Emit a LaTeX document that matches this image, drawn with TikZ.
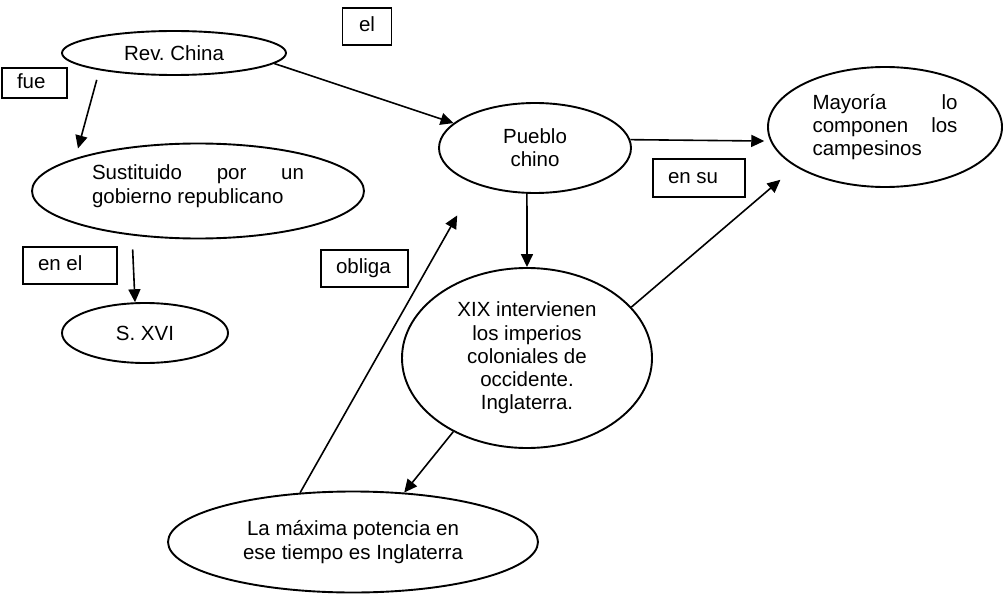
\documentclass[tikz,border=0pt]{standalone}
\usepackage{fontspec}
\setmainfont{Liberation Sans}
\usetikzlibrary{shapes.geometric,arrows.meta}

\begin{document}
\begin{tikzpicture}[x=1pt,y=-1pt,
  concept node/.style={ellipse,draw,line width=1.9pt,inner sep=0pt,align=center,font=\fontsize{20.5}{23.3}\selectfont},
  tag node/.style={rectangle,draw,line width=1.9pt,inner xsep=15pt,inner ysep=0pt,minimum height=37pt,text height=14.5pt,text depth=4pt,font=\fontsize{20.5}{23.3}\selectfont},
  link/.style={line width=1.6pt,-{Triangle[length=13pt,width=12pt]}}]

  \useasboundingbox (0,0) rectangle (1003,596);

  \node[concept node,minimum width=224pt,minimum height=44pt] (rev) at (174,53) {Rev.\ China};
  \node[concept node,minimum width=332pt,minimum height=95pt] (sust) at (198,191) {\raisebox{0pt}[22pt][21pt]{\parbox{212pt}{Sustituido\hfill por\hfill un\\gobierno republicano}}};
  \node[concept node,minimum width=166pt,minimum height=60pt] (sxvi) at (145,333) {S. XVI};
  \node[concept node,minimum width=192pt,minimum height=90pt] (pueblo) at (535,148) {Pueblo\\chino};
  \node[concept node,minimum width=234pt,minimum height=120pt] (mayoria) at (885,127) {\parbox{145pt}{Mayoría\hfill lo\\componen\hfill los\\campesinos}};
  \node[concept node,minimum width=250pt,minimum height=180pt] (xix) at (527,358) {XIX intervienen\\los imperios\\coloniales de\\occidente.\\Inglaterra.};
  \node[concept node,minimum width=370pt,minimum height=101pt] (maxima) at (353,542) {La máxima potencia en\\ese tiempo es Inglaterra};

  \node[tag node,minimum width=49pt] (el) at (367,26.5) {el};
  \node[tag node,minimum height=30pt] (fue) at (34.5,83) {\makebox[35pt][l]{fue}};
  \node[tag node] (enel) at (70,265.5) {\makebox[64pt][l]{en el}};
  \node[tag node] (obliga) at (364.5,268.5) {\makebox[57pt][l]{obliga}};
  \node[tag node,minimum height=38pt] (ensu) at (699,178) {\makebox[62pt][l]{en su}};

 \path
 (rev.193) edge[link,shorten <=10pt,shorten >=10pt] (sust.165)
 (sust.214) edge[link,shorten <=14pt] (sxvi.108)
 (rev.354) edge[link] (pueblo.163)
 (pueblo.5) edge[link,shorten >=6pt] (mayoria.187)
 (pueblo.260) edge[link] (xix.north)
 (xix.26) edge[link,shorten >=20pt] (mayoria.204)
 (xix.225) edge[link] (maxima.44)
 (maxima.137) edge[link,shorten >=36pt] (pueblo.211);

\end{tikzpicture}
\end{document}
